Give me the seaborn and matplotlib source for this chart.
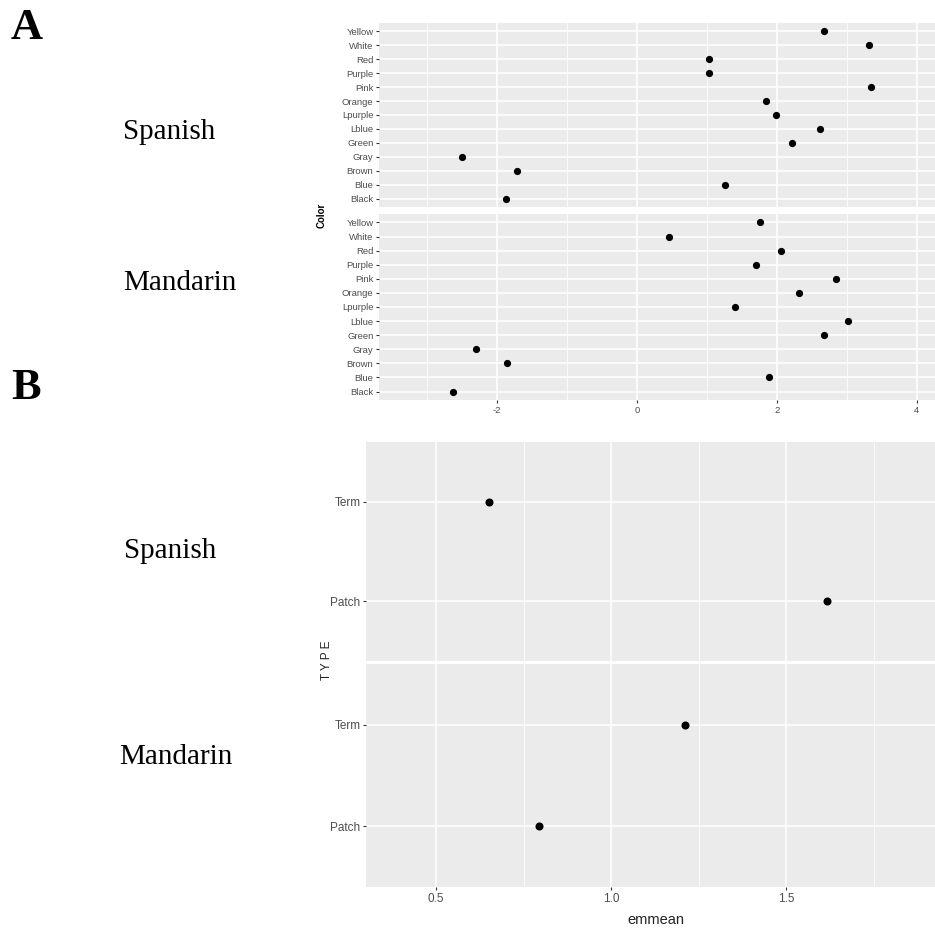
import numpy as np
import pandas as pd
import matplotlib.pyplot as plt
import seaborn as sns
from matplotlib.ticker import MultipleLocator

# valores
languages = ['Spanish', 'Mandarin']

colors = ['Black', 'Blue', 'Brown', 'Gray', 'Green', 'Lblue', 'Lpurple',
          'Orange', 'Pink', 'Purple', 'Red', 'White', 'Yellow']
color_spanish = [-1.88, 1.26, -1.72, -2.51, 2.21, 2.61, 1.99,
                 1.85, 3.35, 1.03, 1.03, 3.32, 2.68]
color_mandarin = [-2.63, 1.88, -1.86, -2.30, 2.67, 3.01, 1.40,
                  2.32, 2.84, 1.70, 2.06, 0.45, 1.76]

types = ['Patch', 'Term']
type_spanish = [1.617, 0.651]
type_mandarin = [0.795, 1.211]

df_color = pd.concat([
    pd.DataFrame({'Color': colors, 'emmean': color_spanish, 'lang': 'Spanish'}),
    pd.DataFrame({'Color': colors, 'emmean': color_mandarin, 'lang': 'Mandarin'}),
])
df_type = pd.concat([
    pd.DataFrame({'TYPE': types, 'emmean': type_spanish, 'lang': 'Spanish'}),
    pd.DataFrame({'TYPE': types, 'emmean': type_mandarin, 'lang': 'Mandarin'}),
])

sns.set_theme(style='darkgrid', rc={'axes.facecolor': '#EBEBEB',
                                    'grid.color': 'white'})
plt.rcParams['font.family'] = ['Liberation Sans', 'DejaVu Sans']
plt.rcParams['axes.unicode_minus'] = False

W, H = 935, 931
fig = plt.figure(figsize=(W / 100, H / 100), dpi=100)


def rect(left, top, right, bottom):
    return [left / W, 1 - bottom / H, (right - left) / W, (bottom - top) / H]


def faceta(box, dados, col, ordem, xlim, major, minor, show_x, lab_size, dot):
    ax = fig.add_axes(rect(*box))
    sns.stripplot(data=dados, x='emmean', y=col, order=ordem, jitter=False,
                  color='black', size=dot, linewidth=0, ax=ax)
    ax.set_xlim(*xlim)
    ax.set_ylim(len(ordem) - 1 + 0.6, -0.6)
    ax.xaxis.set_major_locator(MultipleLocator(major))
    ax.xaxis.set_minor_locator(MultipleLocator(minor))
    ax.set_axisbelow(True)
    ax.grid(True, which='major', color='white', linewidth=1.1)
    ax.xaxis.grid(True, which='minor', color='white', linewidth=0.55)
    for s in ax.spines.values():
        s.set_visible(False)
    ax.set_xlabel('')
    ax.set_ylabel('')
    ax.tick_params(axis='both', which='major', length=2.5, width=0.8,
                   color='#333333', labelcolor='#4D4D4D',
                   labelsize=lab_size, pad=1.5, left=True, bottom=True)
    ax.tick_params(axis='x', which='minor', length=0)
    if not show_x:
        ax.tick_params(axis='x', which='both', bottom=False, labelbottom=False)
    return ax


# painel A
caixas_a = [(379, 23, 935, 207), (379, 214, 935, 400)]
for caixa, lang in zip(caixas_a, languages):
    faceta(caixa, df_color[df_color['lang'] == lang], 'Color', colors[::-1],
           (-3.69, 4.26), 2, 1, lang == 'Mandarin', 6.8, 5.2)

# painel B
caixas_b = [(366, 442, 935, 661), (366, 664, 935, 887)]
for caixa, lang in zip(caixas_b, languages):
    ax = faceta(caixa, df_type[df_type['lang'] == lang], 'TYPE', types[::-1],
                (0.3, 1.924), 0.5, 0.25, lang == 'Mandarin', 8.5, 5.8)
    ax.xaxis.set_major_formatter(plt.FormatStrFormatter('%.1f'))

fig.text(322 / W, 1 - 215 / H, 'Color', rotation=90, ha='center', va='center',
         fontsize=7, fontweight='bold', color='black')
fig.text(327 / W, 1 - 660 / H, 'T Y P E', rotation=90, ha='center', va='center',
         fontsize=8.5, color='#222222')
fig.text(656 / W, 1 - 920 / H, 'emmean', ha='center', va='center',
         fontsize=10.5, color='#222222')

serif = ['Liberation Serif', 'DejaVu Serif']
fig.text(11 / W, 1 - 28 / H, 'A', ha='left', va='center', fontsize=32,
         fontweight='bold', family=serif, color='black')
fig.text(11 / W, 1 - 388 / H, 'B', ha='left', va='center', fontsize=32,
         fontweight='bold', family=serif, color='black')
for y, txt, x in [(132, 'Spanish', 169), (283, 'Mandarin', 180),
                  (551, 'Spanish', 170), (757, 'Mandarin', 176)]:
    fig.text(x / W, 1 - y / H, txt, ha='center', va='center', fontsize=21,
             family=serif, color='black')

plt.savefig('out.png', dpi=100)
